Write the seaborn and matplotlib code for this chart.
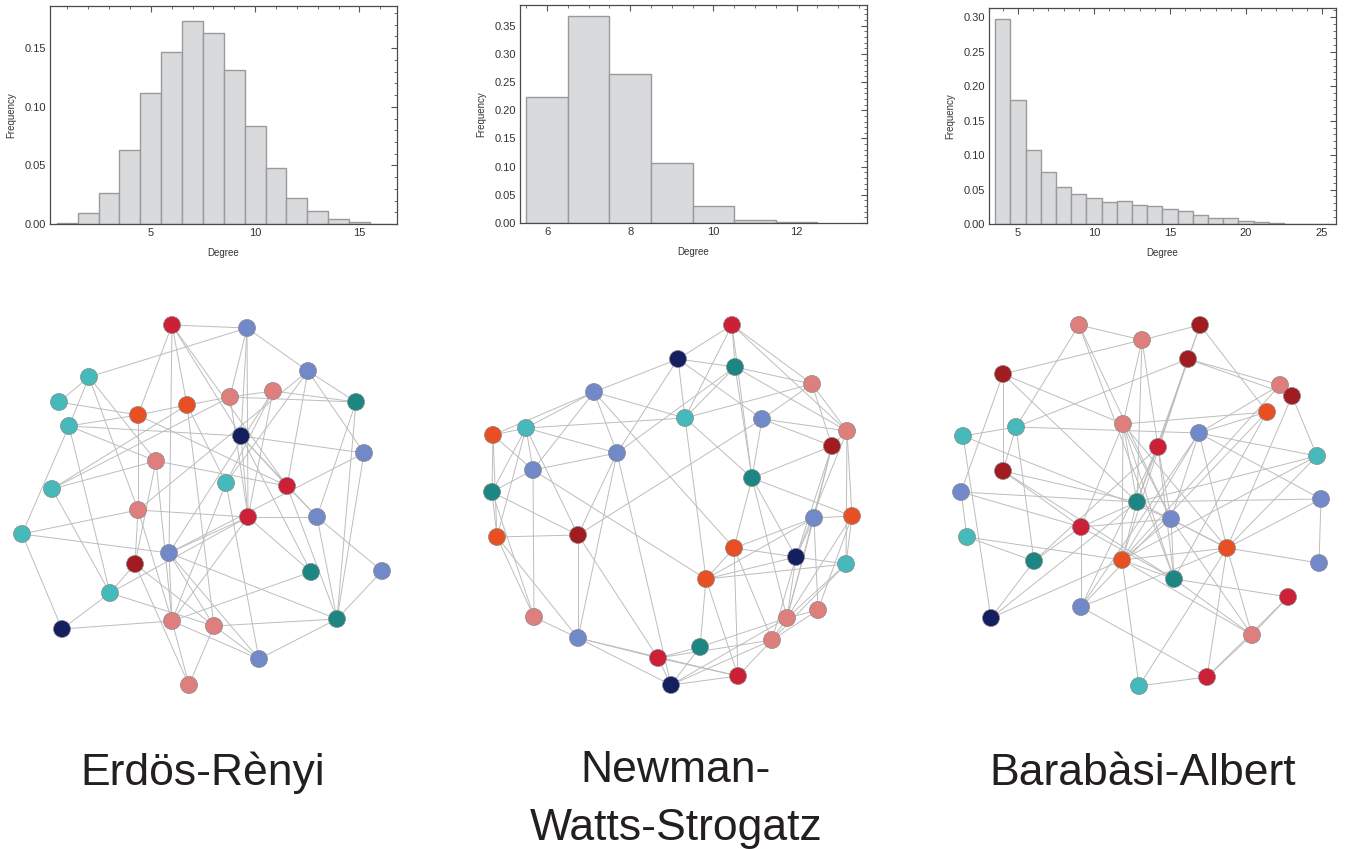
import numpy as np
import pandas as pd
import matplotlib
matplotlib.use("Agg")
import matplotlib.pyplot as plt
from matplotlib.collections import LineCollection
from matplotlib.ticker import MultipleLocator, FormatStrFormatter
import seaborn as sns

# ---------------- degree distributions ----------------
er_degree = list(range(1, 17))
er_freq = [0.001, 0.009, 0.0265, 0.0635, 0.112, 0.147, 0.1736, 0.1633,
           0.1318, 0.0834, 0.048, 0.0225, 0.011, 0.0043, 0.0014, 0.0003]

nws_degree = list(range(6, 13))
nws_freq = [0.224, 0.368, 0.264, 0.106, 0.031, 0.006, 0.001]

ba_degree = list(range(4, 26))
ba_freq = [0.297, 0.180, 0.108, 0.076, 0.053, 0.044, 0.038, 0.032, 0.034,
           0.028, 0.026, 0.022, 0.019, 0.013, 0.009, 0.008, 0.004, 0.0025,
           0.0015, 0.0006, 0.0003, 0.0001]

model_names = ["Erdös-Rènyi", "Newman-\nWatts-Strogatz", "Barabàsi-Albert"]

# ---------------- sample networks (layout x, layout y, colour group) -------
er_x = [172, 247, 308, 356, 89, 59, 69, 138, 187, 230, 273, 241, 364, 156, 226, 287,
        52, 138, 248, 317, 22, 169, 135, 311, 382, 110, 337, 62, 172, 214, 259, 189]
er_y = [25, 28, 71, 102, 77, 102, 126, 115, 105, 97, 91, 136, 153, 161, 183, 186,
        189, 210, 217, 217, 234, 253, 264, 272, 271, 293, 319, 329, 321, 326, 359, 385]
er_group = list("RBBTCCCOOPPNBPCRCPRBCBDTBCTNPPBP")
er_edges = [(1, 2), (1, 8), (1, 9), (1, 22), (1, 12), (1, 16), (2, 5), (2, 3), (2, 12),
            (2, 19), (2, 10), (3, 4), (3, 13), (3, 16), (3, 15), (3, 18), (4, 11), (4, 10),
            (4, 27), (4, 20), (5, 6), (5, 7), (5, 18), (5, 14), (6, 8), (7, 8), (7, 12),
            (7, 21), (7, 26), (7, 14), (8, 18), (8, 16), (8, 9), (9, 10), (9, 30), (9, 15),
            (10, 11), (10, 19), (10, 17), (11, 15), (11, 19), (11, 22), (12, 13), (12, 19),
            (12, 20), (12, 24), (12, 16), (13, 22), (13, 27), (14, 17), (14, 16), (14, 23),
            (14, 29), (15, 29), (15, 31), (16, 20), (16, 27), (17, 9), (17, 26), (18, 19),
            (18, 21), (18, 23), (18, 29), (19, 20), (19, 22), (19, 26), (19, 24), (19, 29),
            (20, 25), (20, 27), (21, 22), (21, 28), (22, 30), (22, 31), (22, 27), (22, 29),
            (23, 30), (23, 32), (23, 26), (24, 29), (25, 27), (26, 28), (26, 30), (27, 30),
            (27, 31), (28, 29), (29, 32), (29, 31), (30, 31), (30, 32)]

nws_x = [272, 218, 275, 352, 134, 225, 302, 387, 372, 33, 66, 157, 73, 32, 292, 392,
         354, 37, 118, 274, 336, 386, 246, 74, 358, 327, 312, 118, 240, 198, 278, 211]
nws_y = [25, 59, 67, 84, 92, 118, 119, 131, 146, 135, 128, 153, 170, 192, 178, 216,
         218, 237, 235, 248, 257, 264, 279, 317, 310, 318, 340, 338, 347, 358, 376, 385]
nws_group = list("RNTPBCBPDOCBBTTOBODONCOPPPPBTRRN")
nws_edges = [(1, 2), (1, 3), (1, 4), (1, 8), (1, 6), (1, 15), (2, 3), (2, 5), (2, 12),
             (2, 6), (2, 7), (3, 4), (3, 6), (3, 8), (3, 12), (3, 15), (4, 6), (4, 8),
             (4, 9), (4, 7), (5, 10), (5, 11), (5, 13), (5, 6), (5, 12), (5, 20),
             (6, 11), (6, 15), (6, 23), (7, 8), (7, 9), (7, 15), (7, 19), (8, 9),
             (8, 16), (8, 22), (8, 21), (9, 15), (9, 17), (9, 21), (9, 26), (10, 11),
             (10, 14), (10, 13), (10, 18), (11, 13), (11, 14), (11, 18), (11, 12),
             (11, 19), (12, 13), (12, 19), (12, 28), (12, 32), (13, 14), (13, 24),
             (13, 23), (14, 18), (14, 19), (14, 24), (15, 16), (15, 20), (15, 21),
             (15, 26), (16, 22), (16, 17), (16, 25), (16, 26), (17, 20), (17, 23),
             (17, 25), (17, 21), (17, 26), (18, 19), (18, 24), (18, 28), (19, 28),
             (19, 30), (20, 21), (20, 23), (20, 27), (20, 31), (21, 22), (21, 23),
             (21, 26), (21, 27), (22, 23), (22, 26), (22, 27), (23, 29), (23, 31),
             (24, 28), (25, 26), (25, 27), (26, 27), (26, 29), (26, 32), (27, 31),
             (27, 30), (27, 32), (28, 30), (28, 32), (28, 31), (29, 30), (29, 32),
             (30, 31), (30, 32), (31, 32)]

ba_x = [149, 270, 212, 258, 73, 350, 362, 337, 193, 86, 33, 269, 228, 387, 73, 31,
        207, 391, 241, 151, 37, 297, 104, 192, 389, 244, 358, 151, 61, 322, 277, 209]
ba_y = [25, 25, 40, 59, 74, 85, 96, 112, 124, 127, 136, 133, 147, 156, 171, 192,
        202, 199, 219, 227, 237, 248, 261, 260, 263, 279, 297, 307, 318, 335, 377, 386]
ba_group = list("PDPDDPDOPCCBRCDBTBBRCOTOBTRBNPRC")
ba_edges = [(1, 3), (1, 10), (1, 26), (1, 19), (2, 3), (2, 4), (2, 13), (2, 8),
            (3, 9), (3, 5), (3, 13), (3, 17), (4, 6), (4, 7), (4, 13), (4, 24), (4, 10),
            (4, 17), (5, 9), (5, 15), (5, 17), (5, 16), (6, 24), (6, 12), (7, 14),
            (7, 22), (8, 12), (8, 9), (8, 28), (8, 26), (9, 17), (9, 19), (9, 24),
            (9, 22), (9, 26), (9, 20), (10, 11), (10, 12), (10, 15), (10, 23),
            (11, 29), (11, 19), (12, 19), (12, 14), (12, 18), (12, 22), (12, 24),
            (12, 28), (13, 17), (13, 19), (13, 23), (13, 26), (13, 28), (14, 17),
            (14, 22), (14, 24), (15, 17), (15, 26), (15, 20), (16, 17), (16, 20),
            (16, 21), (17, 18), (17, 24), (17, 29), (17, 22), (17, 20), (18, 22),
            (18, 25), (19, 22), (19, 26), (19, 24), (19, 30), (19, 20), (20, 26),
            (20, 28), (20, 23), (21, 23), (21, 24), (22, 24), (22, 25), (22, 30),
            (22, 31), (22, 28), (23, 29), (24, 29), (24, 32), (24, 30), (24, 26),
            (26, 27), (26, 30), (27, 30), (27, 31), (28, 31), (30, 31), (31, 32),
            (32, 22)]

group_colors = {
    "R": "#cb2036", "B": "#7189c8", "T": "#1c8683", "C": "#46b9bb",
    "O": "#e84f22", "P": "#de7f7d", "N": "#141f5f", "D": "#a01c20",
}

# ---------------- figure ----------------
sns.set_theme(style="white")
plt.rcParams["font.family"] = ["Liberation Sans", "DejaVu Sans"]

W, H = 1346, 849
fig = plt.figure(figsize=(W / 100, H / 100), dpi=100)


def px_axes(left, top, right, bottom):
    return fig.add_axes([left / W, 1 - bottom / H, (right - left) / W, (bottom - top) / H])


def degree_hist(ax, deg, freq, xlim, ylim, xmaj, xmin, yspec):
    df = pd.DataFrame({"Degree": deg, "Frequency": freq})
    sns.histplot(data=df, x="Degree", weights="Frequency", discrete=True,
                 color="#d9dadc", edgecolor="#9a9a9a", linewidth=1.0, alpha=1.0, ax=ax)
    ax.set_xlim(*xlim)
    ax.set_ylim(*ylim)
    ax.xaxis.set_major_locator(MultipleLocator(xmaj))
    ax.xaxis.set_minor_locator(MultipleLocator(xmin))
    ax.yaxis.set_major_locator(MultipleLocator(yspec))
    ax.yaxis.set_minor_locator(MultipleLocator(yspec / 5))
    ax.yaxis.set_major_formatter(FormatStrFormatter("%.2f"))
    ax.tick_params(which="both", direction="in", top=True, right=True,
                   color="#555555", labelsize=8, labelcolor="#333333", pad=3)
    ax.tick_params(which="major", length=4, width=0.8)
    ax.tick_params(which="minor", length=2, width=0.6)
    for s in ax.spines.values():
        s.set_color("#4a4a4a")
        s.set_linewidth(0.9)
    ax.set_xlabel("Degree", fontsize=7, color="#333333", labelpad=7)
    ax.set_ylabel("Frequency", fontsize=7, color="#333333", labelpad=6)


ax1 = px_axes(50, 6, 397, 224)
degree_hist(ax1, er_degree, er_freq, (0.17, 16.8), (0, 0.186), 5, 1, 0.05)
ax2 = px_axes(520, 5, 867, 223)
degree_hist(ax2, nws_degree, nws_freq, (5.35, 13.69), (0, 0.3867), 2, 0.5, 0.05)
ax3 = px_axes(989, 8, 1336, 224)
degree_hist(ax3, ba_degree, ba_freq, (3.09, 25.92), (0, 0.3136), 5, 1, 0.05)


def draw_network(ax, xs, ys, groups, edges):
    segs = [[(xs[a - 1], ys[a - 1]), (xs[b - 1], ys[b - 1])] for a, b in edges]
    ax.add_collection(LineCollection(segs, colors="#bdbdbd", linewidths=0.7, zorder=1))
    df = pd.DataFrame({"x": xs, "y": ys, "group": groups})
    sns.scatterplot(data=df, x="x", y="y", hue="group", palette=group_colors,
                    s=150, edgecolor="#8a8a8a", linewidth=0.5, legend=False,
                    zorder=3, ax=ax)
    ax.set_xlim(0, 420)
    ax.set_ylim(410, 0)
    ax.set_axis_off()


net_specs = [
    (0, er_x, er_y, er_group, er_edges),
    (460, nws_x, nws_y, nws_group, nws_edges),
    (930, ba_x, ba_y, ba_group, ba_edges),
]
for x0, xs, ys, gr, ed in net_specs:
    axn = px_axes(x0, 300, x0 + 420, 710)
    draw_network(axn, xs, ys, gr, ed)

# model titles under each network (baseline of the last line)
title_x = [203, 676, 1143]
title_base = [785, 840, 785]
for name, cx, by in zip(model_names, title_x, title_base):
    fig.text(cx / W, 1 - by / H, name, ha="center", va="baseline",
             fontsize=32, color="#231f20", linespacing=1.53, multialignment="center")

fig.savefig("out.png", dpi=100)
